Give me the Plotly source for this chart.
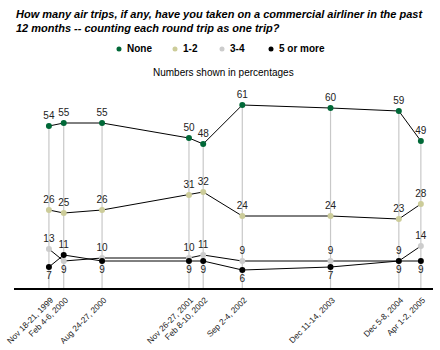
import plotly.graph_objects as go

dates = ["1999-11-19", "2000-02-05", "2000-08-25", "2001-11-26", "2002-02-09",
         "2002-09-03", "2003-12-12", "2004-12-06", "2005-04-01"]
tick_labels = ["Nov 18-21, 1999", "Feb 4-6, 2000", "Aug 24-27, 2000", "Nov 26-27, 2001",
               "Feb 8-10, 2002", "Sep 2-4, 2002", "Dec 11-14, 2003", "Dec 5-8, 2004",
               "Apr 1-2, 2005"]
none_v = [54, 55, 55, 50, 48, 61, 60, 59, 49]
one_two = [26, 25, 26, 31, 32, 24, 24, 23, 28]
three_four = [13, 9, 10, 10, 11, 9, 9, 9, 14]
five_more = [7, 11, 9, 9, 9, 6, 7, 9, 9]

names = ["None", "1-2", "3-4", "5 or more"]
colors = ["#006837", "#cccc99", "#cccccc", "#000000"]

FONT = "Liberation Sans, Arial, sans-serif"
L, R, T, B = 14, 7, 93, 62
W, H = 440, 350
PW, PH = W - L - R, H - T - B


def px_x(p):
    return (p - L) / PW


def px_y(p):
    return (H - B - p) / PH


fig = go.Figure()

# drop lines from "None" points to the axis
dx, dy = [], []
for d, v in zip(dates, none_v):
    dx += [d, d, None]
    dy += [v, 0, None]
fig.add_trace(go.Scatter(x=dx, y=dy, mode="lines", line=dict(color="#c8c8c8", width=1.2),
                         showlegend=False, hoverinfo="skip"))

pos34 = ["top center" if a > b else "bottom center" for a, b in zip(three_four, five_more)]
pos5 = ["top center" if b >= a else "bottom center" for a, b in zip(three_four, five_more)]
series = [none_v, one_two, three_four, five_more]
positions = [["top center"] * len(dates), ["top center"] * len(dates), pos34, pos5]

for vals, name, col, pos in zip(series, names, colors, positions):
    fig.add_trace(go.Scatter(
        x=dates, y=vals, mode="lines+markers+text", name=name,
        line=dict(color="#000000", width=1),
        marker=dict(color=col, size=6),
        text=[str(v) for v in vals], textposition=pos,
        textfont=dict(family=FONT, size=10, color="#222222"),
        showlegend=False, cliponaxis=False))

annotations = [
    dict(text="<b><i>How many air trips, if any, have you taken on a commercial airliner in the past<br>"
              "12 months -- counting each round trip as one trip?</i></b>",
         x=px_x(14), y=px_y(6), xref="paper", yref="paper", xanchor="left", yanchor="top",
         align="left", showarrow=False, font=dict(family=FONT, size=11, color="#000000")),
    dict(text="Numbers shown in percentages", x=0.5, y=px_y(73), xref="paper", yref="paper",
         xanchor="center", yanchor="middle", showarrow=False,
         font=dict(family=FONT, size=10, color="#000000")),
]
shapes = []
legend_px = [119, 175, 222, 271]
for name, col, lx in zip(names, colors, legend_px):
    shapes.append(dict(type="circle", xref="paper", yref="paper",
                       xsizemode="pixel", ysizemode="pixel",
                       xanchor=px_x(lx), yanchor=px_y(49),
                       x0=-2.5, x1=2.5, y0=-2.5, y1=2.5,
                       fillcolor=col, line=dict(width=0)))
    annotations.append(dict(text="<b>" + name + "</b>", x=px_x(lx + 6), y=px_y(49),
                            xref="paper", yref="paper", xanchor="left", yanchor="middle",
                            showarrow=False, font=dict(family=FONT, size=10, color="#000000")))

fig.update_layout(
    width=W, height=H,
    margin=dict(l=L, r=R, t=T, b=B, autoexpand=False),
    paper_bgcolor="white", plot_bgcolor="white",
    font=dict(family=FONT, size=10, color="#000000"),
    showlegend=False,
    xaxis=dict(type="date", range=["1999-05-19", "2005-06-04"], automargin=False,
               tickvals=dates, ticktext=tick_labels, tickangle=-45,
               ticklabeloverflow="allow", ticklabelstandoff=2, ticklabelshift=2,
               tickfont=dict(family=FONT, size=8.3, color="#222222"),
               showgrid=False, zeroline=False, showline=True,
               linecolor="#000000", linewidth=2, ticks=""),
    yaxis=dict(range=[0, 65], visible=False, showgrid=False, automargin=False),
    annotations=annotations,
    shapes=shapes,
)

fig.write_html("out.html")
